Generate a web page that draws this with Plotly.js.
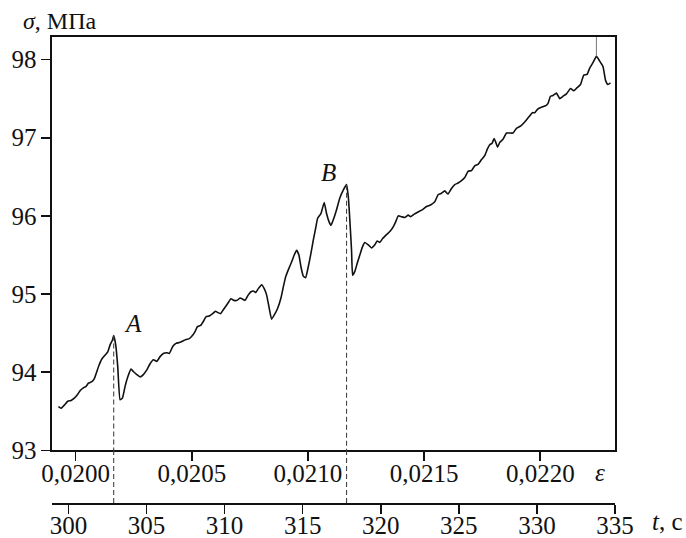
<!DOCTYPE html>
<html>
<head>
<meta charset="utf-8">
<script src="https://cdn.plot.ly/plotly-3.0.1.min.js"></script>
<style>body{margin:0;background:#fff}#chart{width:686px;height:538px}</style>
</head>
<body>
<div id="chart"></div>
<script>
// time, s
var tValues = [299.36,299.53,299.74,299.96,300.17,300.38,300.60,300.77,300.96,301.13,301.28,301.50,301.66,301.82,301.96,302.14,302.35,302.52,302.67,302.82,302.90,303.03,303.16,303.31,303.46,303.63,303.80,304.01,304.16,304.38,304.59,304.80,305.02,305.23,
305.44,305.66,305.87,306.08,306.30,306.46,306.68,306.89,307.10,307.32,307.53,307.74,307.90,308.11,308.25,308.47,308.64,308.81,309.02,309.24,309.41,309.60,309.75,309.92,310.17,310.41,310.60,310.81,310.99,311.20,
311.31,311.52,311.69,311.84,311.99,312.16,312.37,312.54,312.69,312.84,313.01,313.23,313.40,313.61,313.76,313.91,314.08,314.29,314.46,314.61,314.76,314.89,315.04,315.19,315.36,315.53,315.68,315.83,315.96,316.17,316.38,316.53,316.68,316.81,316.96,317.17,317.38,
317.60,317.81,317.92,318.02,318.13,318.20,318.34,318.49,318.66,318.84,318.98,319.20,319.41,319.62,319.77,319.94,320.12,320.37,320.58,320.80,320.97,321.12,321.33,321.54,321.76,321.91,322.12,322.39,322.68,322.93,323.19,323.46,
323.67,323.89,324.10,324.31,324.53,324.74,324.95,325.17,325.38,325.59,325.81,326.02,326.23,326.45,326.66,326.84,326.98,327.13,327.26,327.35,327.48,327.62,327.83,328.05,328.26,328.47,328.69,328.97,329.22,329.54,
329.71,329.86,330.07,330.29,330.57,330.71,330.87,331.03,331.25,331.46,331.67,331.89,332.15,332.36,332.57,332.79,333.00,333.21,333.38,333.59,333.81,334.02,334.23,334.40,334.55,334.71];
// stress, MPa
var sigmaValues = [93.56,93.54,93.58,93.63,93.64,93.67,93.72,93.77,93.80,93.82,93.86,93.88,93.92,94.01,94.09,94.17,94.22,94.26,94.35,94.41,94.47,94.35,94.07,93.65,93.67,93.82,93.94,94.04,94.01,93.97,93.94,93.97,94.03,94.11,
94.16,94.14,94.20,94.24,94.25,94.24,94.33,94.37,94.38,94.40,94.42,94.43,94.46,94.52,94.58,94.60,94.65,94.71,94.72,94.75,94.78,94.76,94.75,94.80,94.87,94.94,94.92,94.92,94.95,94.93,
94.92,94.99,95.03,95.04,95.02,95.07,95.12,95.07,94.99,94.84,94.68,94.75,94.82,94.95,95.09,95.22,95.31,95.41,95.50,95.56,95.50,95.35,95.23,95.21,95.35,95.52,95.69,95.84,95.97,96.03,96.17,96.03,95.93,95.88,95.95,96.08,96.23,
96.33,96.40,96.25,95.95,95.56,95.24,95.29,95.39,95.50,95.61,95.66,95.63,95.59,95.63,95.68,95.66,95.71,95.76,95.80,95.86,95.93,96.00,95.99,95.98,96.01,95.99,96.02,96.05,96.08,96.12,96.14,96.18,
96.27,96.29,96.32,96.28,96.35,96.40,96.42,96.45,96.49,96.57,96.58,96.64,96.66,96.72,96.77,96.86,96.91,96.93,96.99,96.95,96.88,96.94,96.98,97.06,97.06,97.06,97.12,97.15,97.20,97.28,
97.32,97.32,97.37,97.39,97.41,97.44,97.53,97.54,97.57,97.50,97.53,97.56,97.63,97.60,97.64,97.68,97.80,97.81,97.89,97.96,98.04,97.98,97.91,97.73,97.68,97.70];

// marked points
var markLabels = ['A', 'B'];
var markT = [302.90, 317.81];
var markSigma = [94.47, 96.40];
var endPeakT = 333.81;
var endPeakSigma = 98.04;

// axes
var sigmaTicks = [93, 94, 95, 96, 97, 98];
var epsTicks = [0.0200, 0.0205, 0.0210, 0.0215, 0.0220];
var tTicks = [300, 305, 310, 315, 320, 325, 330, 335];
var sigmaRange = [93, 98.288];
var epsRange = [0.019898, 0.0223216];
var tRange = [298.95, 335.0];

var FONT = "'Liberation Serif', 'Times New Roman', serif";
var yDomainBottom = 0.1127;

var traces = [
  {x: tValues, y: sigmaValues, xaxis: 'x2', yaxis: 'y', mode: 'lines',
   line: {color: '#111', width: 1.6, shape: 'spline', smoothing: 0.4}, hoverinfo: 'skip', showlegend: false},
  {x: epsTicks, y: epsTicks.map(function(){return null;}), xaxis: 'x', yaxis: 'y', mode: 'lines',
   hoverinfo: 'skip', showlegend: false}
];

var shapes = [];
var annotations = [];
for (var i = 0; i < markT.length; i++) {
  shapes.push({type: 'line', xref: 'x2', yref: 'y', x0: markT[i], x1: markT[i], y0: markSigma[i], y1: sigmaRange[0],
    line: {color: '#444', width: 1.1, dash: '5px,3px'}});
  shapes.push({type: 'line', xref: 'x2', yref: 'paper', x0: markT[i], x1: markT[i], y0: 0, y1: yDomainBottom,
    line: {color: '#444', width: 1.1, dash: '5px,3px'}});
  annotations.push({xref: 'x2', yref: 'y', x: markT[i], y: markSigma[i], text: '<i>' + markLabels[i] + '</i>',
    showarrow: false, xanchor: 'center', yanchor: 'middle', xshift: i === 0 ? 19 : -18, yshift: 12,
    font: {family: FONT, size: 25, color: '#111'}});
}
shapes.push({type: 'line', xref: 'x2', yref: 'y', x0: endPeakT, x1: endPeakT, y0: endPeakSigma, y1: sigmaRange[1],
  line: {color: '#777', width: 1}});

annotations.push({xref: 'paper', yref: 'paper', x: 0.0142, y: 1.035, xanchor: 'center', yanchor: 'middle',
  text: '<i>σ</i>, МПа', showarrow: false, font: {family: FONT, size: 24, color: '#111'}});
annotations.push({xref: 'paper', yref: 'paper', x: 0.9725, y: 0.065, xanchor: 'center', yanchor: 'middle',
  text: '<i>ε</i>', showarrow: false, font: {family: FONT, size: 25, color: '#111'}});
annotations.push({xref: 'paper', yref: 'paper', x: 1.0924, y: -0.04, xanchor: 'center', yanchor: 'middle',
  text: '<i>t</i>, с', showarrow: false, font: {family: FONT, size: 25, color: '#111'}});

var axisCommon = {showgrid: false, zeroline: false, showline: true, linecolor: '#111', linewidth: 1.6,
  ticks: 'outside', ticklen: 9, tickwidth: 1.6, tickcolor: '#111',
  tickfont: {family: FONT, size: 25, color: '#111'}, fixedrange: true};

var layout = {
  width: 686, height: 538,
  margin: {l: 52, r: 71, t: 37, b: 35, autoexpand: false},
  paper_bgcolor: '#fff', plot_bgcolor: '#fff',
  separators: ', ',
  showlegend: false,
  xaxis: Object.assign({}, axisCommon, {range: epsRange, autorange: false, tickmode: 'array', tickvals: epsTicks,
    tickformat: '.4f', anchor: 'y', mirror: true, ticklabelstandoff: -9}),
  xaxis2: Object.assign({}, axisCommon, {range: tRange, autorange: false, tickmode: 'array', tickvals: tTicks,
    overlaying: 'x', anchor: 'free', position: 0, side: 'bottom', ticklabelstandoff: -10}),
  yaxis: Object.assign({}, axisCommon, {range: sigmaRange, autorange: false, tickmode: 'array', tickvals: sigmaTicks,
    domain: [yDomainBottom, 1], mirror: true}),
  shapes: shapes,
  annotations: annotations
};

Plotly.newPlot('chart', traces, layout, {displayModeBar: false, staticPlot: true});
</script>
</body>
</html>
